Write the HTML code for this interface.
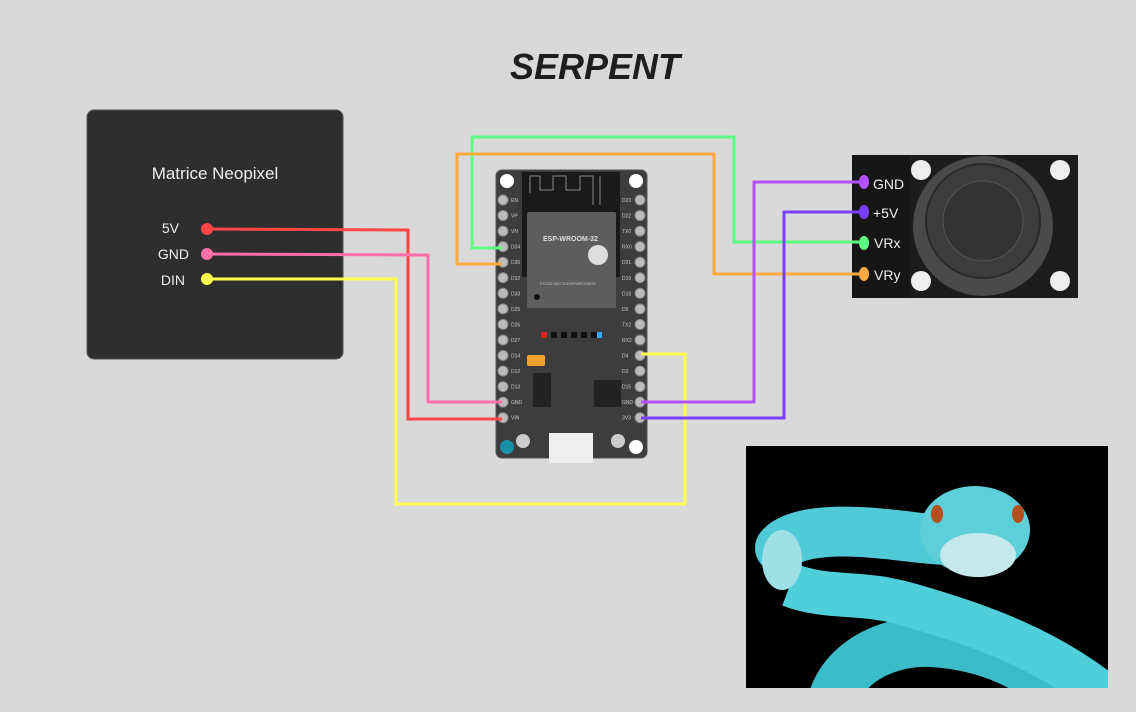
<!DOCTYPE html>
<html><head><meta charset="utf-8"><style>
html,body{margin:0;padding:0;width:1136px;height:712px;overflow:hidden;background:#d9d9d9;}
svg{display:block;font-family:"Liberation Sans",sans-serif;}
</style></head><body>
<svg width="1136" height="712" viewBox="0 0 1136 712">
<defs><clipPath id="photoclip"><rect x="746" y="446" width="362" height="242"/></clipPath></defs>
<text x="595" y="79" text-anchor="middle" font-size="36" font-weight="bold" font-style="italic" fill="#1e1e1e">SERPENT</text>

<g>
<rect x="87" y="110" width="256" height="249" rx="7" fill="#2e2e2e" stroke="#555" stroke-width="1"/>
<text x="215" y="179" text-anchor="middle" font-size="17" fill="#eee">Matrice Neopixel</text>
<text x="179" y="233" text-anchor="end" font-size="14" fill="#eee">5V</text>
<text x="189" y="259" text-anchor="end" font-size="14" fill="#eee">GND</text>
<text x="185" y="285" text-anchor="end" font-size="14" fill="#eee">DIN</text>
</g>

<g>
<rect x="496" y="170" width="151" height="288" rx="6" fill="#3d3d3d" stroke="#555"/>
<circle cx="507" cy="181" r="7" fill="#fff"/><circle cx="636" cy="181" r="7" fill="#fff"/>
<circle cx="636" cy="447" r="7" fill="#fff"/><circle cx="507" cy="447" r="7" fill="#1890a8"/>
<rect x="522" y="172" width="98" height="105" fill="#1a1a1a"/>
<path d="M530 193 V176 H540 V190 H553 V176 H566 V190 H580 V176 H593 V205 M600 176 V205" stroke="#888" fill="none" stroke-width="1"/>
<rect x="527" y="212" width="89" height="96" rx="2" fill="#5d5d5d"/>
<text x="543" y="241" font-size="7" font-weight="bold" fill="#ddd">ESP-WROOM-32</text>
<circle cx="598" cy="255" r="10" fill="#ddd"/>
<text x="540" y="285" font-size="4" fill="#ccc">FCCID:2AC7Z-ESPWROOM32</text>
<circle cx="537" cy="297" r="3" fill="#111"/>
<rect x="541" y="332" width="6" height="6" fill="#d22"/>
<rect x="551" y="332" width="6" height="6" fill="#111"/><rect x="561" y="332" width="6" height="6" fill="#111"/>
<rect x="571" y="332" width="6" height="6" fill="#111"/><rect x="581" y="332" width="6" height="6" fill="#111"/>
<rect x="591" y="332" width="6" height="6" fill="#111"/><rect x="597" y="332" width="5" height="6" fill="#3af"/>
<rect x="527" y="355" width="18" height="11" rx="2" fill="#f0a030"/>
<rect x="533" y="373" width="18" height="34" fill="#222"/>
<rect x="594" y="380" width="27" height="27" fill="#222"/>
<rect x="549" y="433" width="44" height="30" fill="#eee"/>
<circle cx="523" cy="441" r="7" fill="#ccc"/><circle cx="618" cy="441" r="7" fill="#ccc"/>
</g>
<g id="pins"></g>

<g>
<rect x="852" y="155" width="226" height="143" fill="#1c1c1c"/>
<rect x="852" y="155" width="58" height="143" fill="#161616"/>
<circle cx="921" cy="170" r="10" fill="#eee"/><circle cx="1060" cy="170" r="10" fill="#eee"/>
<circle cx="921" cy="281" r="10" fill="#eee"/><circle cx="1060" cy="281" r="10" fill="#eee"/>
<circle cx="983" cy="226" r="70" fill="#4a4a4a"/>
<circle cx="983" cy="221" r="57" fill="#3c3c3c" stroke="#2a2a2a" stroke-width="2"/>
<circle cx="983" cy="221" r="40" fill="#333" stroke="#555" stroke-width="1"/>
<text x="873" y="189" font-size="14" fill="#eee">GND</text>
<text x="873" y="218" font-size="14" fill="#eee">+5V</text>
<text x="874" y="248" font-size="14" fill="#eee">VRx</text>
<text x="874" y="280" font-size="14" fill="#eee">VRy</text>
</g>

<g fill="none" stroke-width="3" stroke-linejoin="miter">
<polyline points="207,229 408,230 408,419 502,419" stroke="#ff4545"/>
<polyline points="207,254 428,255 428,402 502,402" stroke="#ff6fa8"/>
<polyline points="207,279 396,279 396,504 685,504 685,354 641,354" stroke="#ffff50"/>
<polyline points="502,248 472,248 472,137 734,137 734,242 863,242" stroke="#5cff80"/>
<polyline points="502,264 457,264 457,154 714,154 714,274 863,274" stroke="#ffaa40"/>
<polyline points="641,402 754,402 754,182 863,182" stroke="#b450ff"/>
<polyline points="641,418 784,418 784,212 863,212" stroke="#7a40ff"/>
</g>
<g>
<circle cx="207" cy="229" r="6" fill="#ff4545"/><circle cx="207" cy="254" r="6" fill="#ff6fa8"/><circle cx="207" cy="279" r="6" fill="#ffff50"/>
<ellipse cx="864" cy="182" rx="5" ry="7" fill="#b450ff"/><ellipse cx="864" cy="212" rx="5" ry="7" fill="#7a40ff"/>
<ellipse cx="864" cy="243" rx="5" ry="7" fill="#5cff80"/><ellipse cx="864" cy="274" rx="5" ry="7" fill="#ffaa40"/>
</g>

<g clip-path="url(#photoclip)">
<rect x="746" y="446" width="362" height="242" fill="#000"/>
<path d="M830 720 C830 670 880 640 930 642 C990 645 1040 670 1060 700" stroke="#3bbcc9" stroke-width="50" fill="none"/>
<path d="M790 585 C830 600 860 590 910 605 C980 625 1050 650 1110 700" stroke="#4ecfd9" stroke-width="44" fill="none"/>
<path d="M780 548 C790 535 820 530 860 532 C900 534 925 540 950 540" stroke="#4fcad6" stroke-width="50" fill="none" stroke-linecap="round"/>
<ellipse cx="782" cy="560" rx="20" ry="30" fill="#9fdfe6"/>
<ellipse cx="975" cy="530" rx="55" ry="44" fill="#5ccfd9"/>
<ellipse cx="978" cy="555" rx="38" ry="22" fill="#c5e8ec"/>
<ellipse cx="937" cy="514" rx="6" ry="9" fill="#b5501e"/><ellipse cx="1018" cy="514" rx="6" ry="9" fill="#b5501e"/>
</g>
</svg>
<script>
const leftPins=["EN","VP","VN","D34","D35","D32","D33","D25","D26","D27","D14","D12","D13","GND","VIN"];
const rightPins=["D23","D22","TX0","RX0","D21","D19","D18","D5","TX2","RX2","D4","D2","D15","GND","3V3"];
const g=document.getElementById('pins');
const ns="http://www.w3.org/2000/svg";
function pin(x,y,label,lx){
  const c=document.createElementNS(ns,'circle');
  c.setAttribute('cx',x);c.setAttribute('cy',y);c.setAttribute('r',5);
  c.setAttribute('fill','#bbb');c.setAttribute('stroke','#888');
  
  
  g.appendChild(c);
  const t=document.createElementNS(ns,'text');
  t.setAttribute('x',lx);t.setAttribute('y',y+2);t.setAttribute('font-size','5');
  t.setAttribute('fill','#ccc');t.textContent=label;
  
  
  g.appendChild(t);
}
leftPins.forEach((p,i)=>pin(503,200+i*15.55,p,511));
rightPins.forEach((p,i)=>pin(640,200+i*15.55,p,622));
</script>
</body></html>
